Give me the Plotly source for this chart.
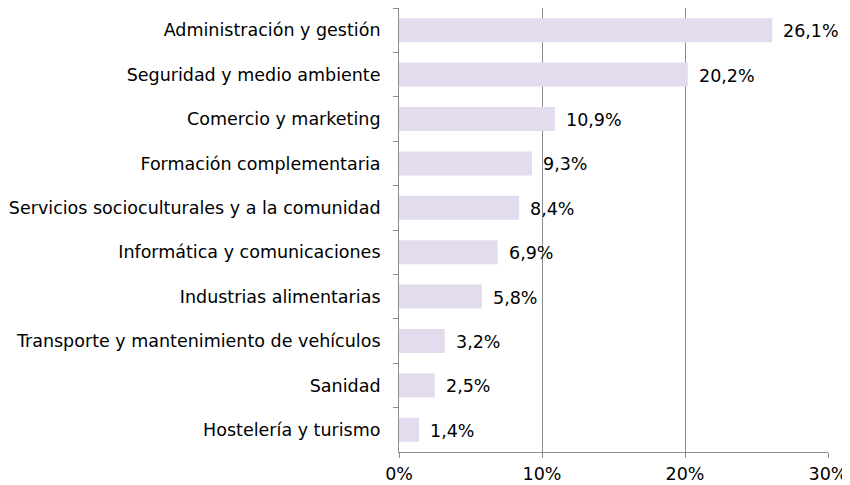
import plotly.graph_objects as go

categories = [
    "Administración y gestión",
    "Seguridad y medio ambiente",
    "Comercio y marketing",
    "Formación complementaria",
    "Servicios socioculturales y a la comunidad",
    "Informática y comunicaciones",
    "Industrias alimentarias",
    "Transporte y mantenimiento de vehículos",
    "Sanidad",
    "Hostelería y turismo",
]
values = [26.1, 20.2, 10.9, 9.3, 8.4, 6.9, 5.8, 3.2, 2.5, 1.4]
x_ticks = [0, 10, 20, 30]
x_tick_labels = ["0%", "10%", "20%", "30%"]

FONT = "Verdana, DejaVu Sans, sans-serif"
GRID = "#8c8c8c"
FS = 17.5

fig = go.Figure()
fig.add_trace(go.Bar(
    x=values,
    y=categories,
    orientation="h",
    marker=dict(color="#E3DCEE", line=dict(width=0)),
    width=0.54,
    hoverinfo="skip",
))

for c, v in zip(categories, values):
    fig.add_annotation(
        x=v, y=c, text=f"{v:.1f}%".replace(".", ","),
        showarrow=False, xanchor="left", xshift=9, yshift=-1,
        font=dict(family=FONT, size=FS, color="#000000"),
    )

fig.update_layout(
    width=850, height=485,
    margin=dict(l=391, r=30, t=0, b=41, autoexpand=False),
    paper_bgcolor="white", plot_bgcolor="white",
    showlegend=False,
    font=dict(family=FONT, size=FS, color="#000000"),
)
fig.update_xaxes(
    range=[0, 30], tickvals=x_ticks, ticktext=x_tick_labels,
    showgrid=True, gridcolor=GRID, gridwidth=1,
    showline=True, linecolor=GRID, linewidth=1,
    ticks="outside", ticklen=5, tickcolor=GRID,
    zeroline=False, automargin=False, ticklabelstandoff=1,
)
fig.update_yaxes(
    autorange="reversed",
    showline=True, linecolor=GRID, linewidth=1,
    ticks="outside", ticklen=5, tickcolor=GRID, tickson="boundaries",
    showgrid=False, ticklabelstandoff=14, automargin=False,
)

fig.write_html("out.html")
